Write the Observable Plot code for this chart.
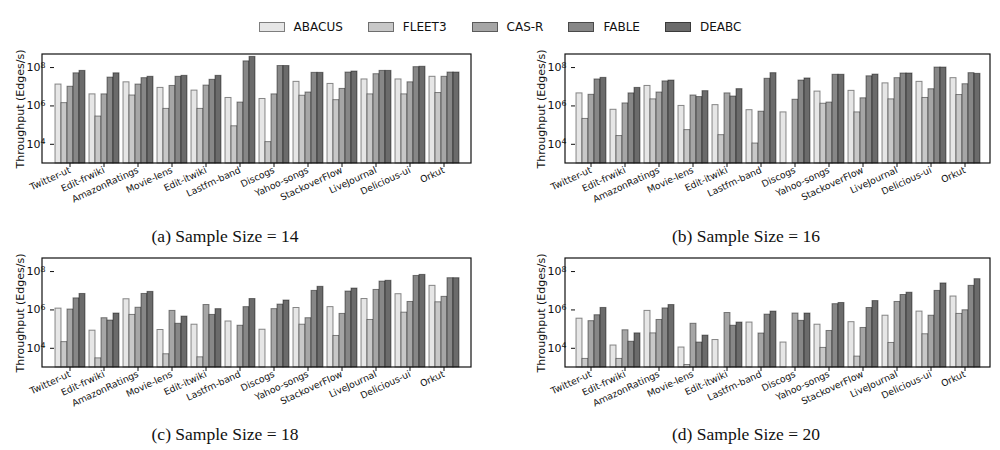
<!DOCTYPE html>
<html>
<head>
<meta charset="utf-8">
<script src="https://cdn.jsdelivr.net/npm/d3@7"></script>
<script src="https://cdn.jsdelivr.net/npm/@observablehq/plot@0.6"></script>
<style>
  body { margin: 0; width: 1000px; height: 450px; overflow: hidden; background: #fff; position: relative;
         font-family: "DejaVu Sans", sans-serif; color: #111; }
  #legend { position: absolute; top: 21px; left: 0; width: 1000px; display: flex; justify-content: center;
            gap: 25px; font-size: 12px; line-height: 12px; }
  .item { display: flex; align-items: center; gap: 9px; }
  .sw { width: 24px; height: 8px; border: 1px solid rgba(0,0,0,0.45); }
  .panel { position: absolute; }
  .cap { position: absolute; font-family: "Liberation Serif", serif; font-size: 17.5px; line-height: 20px;
         transform: translateX(-50%); white-space: nowrap; color: #111; }
  svg [aria-label="fx-axis tick label"] { font-size: 9.3px; }
  svg [aria-label="y-axis tick label"] { font-size: 11px; }
  svg [aria-label="y-axis label"] { font-size: 11px; }
</style>
</head>
<body>
<div id="legend"></div>
<script>
// Datasets along the x axis
const categories = ["Twitter-ut", "Edit-frwiki", "AmazonRatings", "Movie-lens", "Edit-itwiki", "Lastfm-band",
  "Discogs", "Yahoo-songs", "StackoverFlow", "LiveJournal", "Delicious-ui", "Orkut"];
// Methods compared, with their bar shades
const series = ["ABACUS", "FLEET3", "CAS-R", "FABLE", "DEABC"];
const shades = ["#e6e6e6", "#c8c8c8", "#a6a6a6", "#878787", "#6b6b6b"];
// Log axis ticks and range (edges per second)
const yTicks = [1e4, 1e6, 1e8];
const yDomain = [1e3, 10 ** 8.68];

// Throughput per method (rows follow `series`, columns follow `categories`); null = no result
const size14 = [
  [1.3e7, 4e6, 1.7e7, 8.7e6, 6.3e6, 2.6e6, 2.3e6, 1.8e7, 1.4e7, 2.4e7, 2.4e7, 3.3e7],
  [1.4e6, 2.8e5, 3.5e6, 7e5, 7e5, 8.7e4, 1.3e4, 3.4e6, 2e6, 4e6, 4e6, 4.7e6],
  [1e7, 4e6, 1.3e7, 1.1e7, 1.15e7, 1.5e6, 4e6, 5e6, 7.7e6, 4.5e7, 1.7e7, 3.3e7],
  [5e7, 3e7, 2.8e7, 3.3e7, 2.3e7, 2.1e8, 1.2e8, 5.3e7, 5.5e7, 6.7e7, 1.05e8, 5.5e7],
  [6.7e7, 5e7, 3.3e7, 3.7e7, 3.7e7, 3.6e8, 1.2e8, 5.3e7, 6.2e7, 6.7e7, 1.1e8, 5.5e7]
];
const size16 = [
  [4.5e6, 6.3e5, 1.1e7, 1e6, 1.1e6, 6e5, 4.6e5, 5.6e6, 6.1e6, 1.5e7, 1.8e7, 2.8e7],
  [2.1e5, 2.7e4, 2.2e6, 5.5e4, 3e4, 1.1e4, null, 1.3e6, 4.6e5, 2.2e6, 2.6e6, 3.7e6],
  [3.8e6, 1.35e6, 5e6, 3.5e6, 4.5e6, 5e5, 2.1e6, 1.5e6, 2.5e6, 2.8e7, 7.4e6, 1.35e7],
  [2.4e7, 4.5e6, 1.9e7, 2.9e6, 3.1e6, 2.6e7, 2.1e7, 4.2e7, 3.5e7, 4.9e7, 1e8, 5.1e7],
  [2.9e7, 8.7e6, 2.1e7, 5.9e6, 7.5e6, 5.1e7, 2.7e7, 4.2e7, 4.3e7, 4.9e7, 1e8, 4.7e7]
];
const size18 = [
  [1.17e6, 8.3e4, 3.6e6, 9e4, 1.7e5, 2.5e5, 9.3e4, 1.26e6, 1.4e6, 3.7e6, 6.6e6, 1.8e7],
  [2.1e4, 3e3, 5.5e5, 4.9e3, 3.4e3, null, null, 1.7e5, 4.4e4, 3e5, 7.2e5, 2.5e6],
  [1.05e6, 3.7e5, 1.3e6, 8.9e5, 1.8e6, 1.5e5, 1.1e6, 3.7e5, 6.2e5, 1.1e7, 2.6e6, 4.8e6],
  [4e6, 2.8e5, 6.8e6, 1.9e5, 5.5e5, 1.4e6, 1.9e6, 9.8e6, 9.1e6, 3e7, 5.9e7, 4.5e7],
  [6.8e6, 6.5e5, 8.7e6, 4.5e5, 1.1e6, 3.7e6, 3.1e6, 1.6e7, 1.3e7, 3.3e7, 6.7e7, 4.5e7]
];
const size20 = [
  [3.5e5, 1.4e4, 8.9e5, 1.1e4, 2.7e4, 2.2e5, 2e4, 1.7e5, 2.3e5, 5e5, 8.2e5, 5e6],
  [2.8e3, 2.8e3, 6e4, 1.35e3, null, null, null, 1.05e4, 3.7e3, 1.9e4, 5.4e4, 6.2e5],
  [2.6e5, 8.7e4, 3e5, 1.9e5, 6.9e5, 5.9e4, 6.5e5, 8e4, 1.15e5, 2.6e6, 5e5, 9.6e5],
  [5.3e5, 2.2e4, 1.2e6, 2e4, 1.5e5, 5.7e5, 2.7e5, 2e6, 1.26e6, 6e6, 9.8e6, 1.8e7],
  [1.27e6, 6e4, 1.8e6, 4.6e4, 2.2e5, 8.2e5, 6.5e5, 2.3e6, 2.9e6, 7.9e6, 2.4e7, 4e7]
];

const panels = [
  {values: size14, caption: "(a) Sample Size = 14", left: 0, top: 45, width: 500, marginRight: 29, capX: 225, capY: 226},
  {values: size16, caption: "(b) Sample Size = 16", left: 523, top: 45, width: 477, marginRight: 10, capX: 746, capY: 226},
  {values: size18, caption: "(c) Sample Size = 18", left: 0, top: 249, width: 500, marginRight: 29, capX: 225, capY: 424},
  {values: size20, caption: "(d) Sample Size = 20", left: 523, top: 249, width: 477, marginRight: 10, capX: 746, capY: 424}
];

// Tick labels as 10 with a raised exponent
const exponent = d => String(Math.round(Math.log10(d)));

// Shared legend above the panels
const legend = d3.select("#legend");
series.forEach((s, i) => {
  const item = legend.append("div").attr("class", "item");
  item.append("div").attr("class", "sw").style("background", shades[i]);
  item.append("span").text(s);
});

const height = 175, marginLeft = 42, marginTop = 9, marginBottom = 57;

for (const p of panels) {
  const rows = [];
  series.forEach((s, i) => categories.forEach((c, j) => {
    const v = p.values[i][j];
    if (v != null) rows.push({category: c, series: s, value: v});
  }));

  const chart = Plot.plot({
    width: p.width,
    height,
    marginLeft,
    marginRight: p.marginRight,
    marginTop,
    marginBottom,
    style: {fontSize: "10px", fontFamily: "DejaVu Sans, sans-serif", color: "#111", background: "transparent"},
    fx: {domain: categories, paddingInner: 0.09, paddingOuter: 0.228, axis: "bottom", tickRotate: -25,
         tickSize: 4, tickPadding: 2, label: null},
    x: {domain: series, padding: 0, axis: null},
    y: {type: "log", domain: yDomain, ticks: yTicks, tickFormat: d => "10^" + exponent(d), tickSize: 4,
        label: "Throughput (Edges/s)", labelAnchor: "center", labelArrow: false, labelOffset: 38},
    color: {domain: series, range: shades},
    marks: [
      Plot.barY(rows, {fx: "category", x: "series", y1: yDomain[0], y2: "value", fill: "series",
        stroke: "#000", strokeOpacity: 0.45, strokeWidth: 1})
    ]
  });

  // Raise the exponent of each power-of-ten tick label
  d3.select(chart).selectAll('[aria-label="y-axis tick label"] text').each(function () {
    const [base, exp] = this.textContent.split("^");
    const t = d3.select(this).text(base);
    t.append("tspan").attr("dy", "-0.45em").attr("font-size", "0.72em").text(exp);
  });

  // Single box around the whole plotting area
  d3.select(chart).append("rect")
    .attr("x", marginLeft).attr("y", marginTop)
    .attr("width", p.width - marginLeft - p.marginRight)
    .attr("height", height - marginTop - marginBottom)
    .attr("fill", "none").attr("stroke", "#111").attr("stroke-width", 1.2);

  const holder = document.createElement("div");
  holder.className = "panel";
  holder.style.left = p.left + "px";
  holder.style.top = p.top + "px";
  holder.appendChild(chart);
  document.body.appendChild(holder);

  const cap = document.createElement("div");
  cap.className = "cap";
  cap.style.left = p.capX + "px";
  cap.style.top = p.capY + "px";
  cap.textContent = p.caption;
  document.body.appendChild(cap);
}
</script>
</body>
</html>
